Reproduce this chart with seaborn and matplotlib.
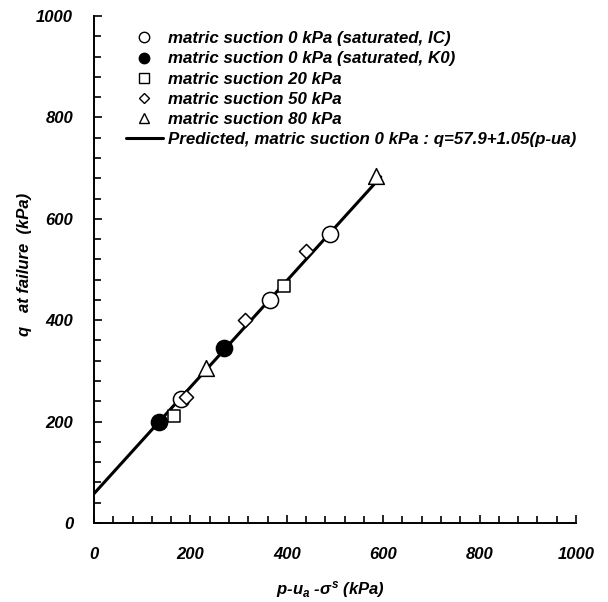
import matplotlib
matplotlib.use("Agg")
import matplotlib.pyplot as plt
import seaborn as sns
import numpy as np
import pandas as pd
from matplotlib.ticker import MultipleLocator
from matplotlib.lines import Line2D

sns.set_theme(style="ticks")
plt.rcParams['font.family'] = ['Liberation Sans', 'DejaVu Sans']
plt.rcParams['mathtext.fontset'] = 'custom'
plt.rcParams['mathtext.it'] = 'Liberation Sans:italic:bold'
plt.rcParams['mathtext.rm'] = 'Liberation Sans:bold'
plt.rcParams['text.color'] = 'black'
plt.rcParams['axes.labelcolor'] = 'black'
plt.rcParams['xtick.color'] = 'black'
plt.rcParams['ytick.color'] = 'black'

# Data
ic_x = [180, 365, 490]
ic_q = [245, 440, 570]
k0_x = [135, 270]
k0_q = [200, 345]
s20_x = [165, 395]
s20_q = [212, 467]
s50_x = [190, 314, 440]
s50_q = [248, 401, 537]
s80_x = [233, 585]
s80_q = [305, 685]

intercept = 57.9
slope = 1.05
line_x = [0, 595]

labels = [
    "matric suction 0 kPa (saturated, IC)",
    "matric suction 0 kPa (saturated, K0)",
    "matric suction 20 kPa",
    "matric suction 50 kPa",
    "matric suction 80 kPa",
    "Predicted, matric suction 0 kPa : q=57.9+1.05(p-ua)",
]

fig = plt.figure(figsize=(6.08, 6.02), dpi=100)
ax = fig.add_axes([94/608, 1-523/602, (576-94)/608, (523-16)/602])

lx = np.array(line_x, dtype=float)
line_df = pd.DataFrame({"x": lx, "q": intercept + slope * lx})
sns.lineplot(data=line_df, x="x", y="q", ax=ax, color="black", lw=2.2,
             legend=False, zorder=2)

common = dict(ax=ax, edgecolor="black", linewidth=1.1, zorder=3, legend=False)
sns.scatterplot(x=ic_x, y=ic_q, marker="o", s=135, color="white", **common)
sns.scatterplot(x=k0_x, y=k0_q, marker="o", s=135, color="black", **common)
sns.scatterplot(x=s20_x, y=s20_q, marker="s", s=85, color="white", **common)
sns.scatterplot(x=s50_x, y=s50_q, marker="D", s=52, color="white", **common)
sns.scatterplot(x=s80_x, y=s80_q, marker="^", s=128, color="white", **common)

handles = [
    Line2D([], [], marker="o", ls="", mfc="white", mec="black", ms=7.5, mew=1.0),
    Line2D([], [], marker="o", ls="", mfc="black", mec="black", ms=7.5, mew=1.0),
    Line2D([], [], marker="s", ls="", mfc="white", mec="black", ms=7.5, mew=1.0),
    Line2D([], [], marker="D", ls="", mfc="white", mec="black", ms=4.8, mew=1.0),
    Line2D([], [], marker="^", ls="", mfc="white", mec="black", ms=7.5, mew=1.0),
    Line2D([], [], color="black", lw=2.2),
]
leg = ax.legend(handles, labels, loc="upper left", bbox_to_anchor=(0.042, 0.993),
                frameon=False, prop=dict(family="Liberation Sans", weight="bold",
                                          style="italic", size=12.2),
                handlelength=2.15, handletextpad=0.3, labelspacing=0.3,
                borderpad=0.2)
for t in leg.get_texts():
    t.set_color("black")

ax.set_xlim(0, 1000)
ax.set_ylim(0, 1000)
ax.xaxis.set_major_locator(MultipleLocator(200))
ax.xaxis.set_minor_locator(MultipleLocator(40))
ax.yaxis.set_major_locator(MultipleLocator(200))
ax.yaxis.set_minor_locator(MultipleLocator(40))
ax.tick_params(which="both", direction="in", color="black", width=1.2)
ax.tick_params(which="major", length=6)
ax.tick_params(which="minor", length=5)
ax.tick_params(axis="x", which="major", pad=17)
ax.tick_params(axis="y", which="major", pad=15)
for lab in ax.get_xticklabels() + ax.get_yticklabels():
    lab.set_fontweight("bold")
    lab.set_fontstyle("italic")
    lab.set_fontsize(12)
    lab.set_color("black")

sns.despine(ax=ax)
for sp in ("left", "bottom"):
    ax.spines[sp].set_color("black")
    ax.spines[sp].set_linewidth(1.4)

ax.set_xlabel(r"p-u$_a$ -$\sigma^s$ (kPa)", fontsize=12, fontweight="bold",
              fontstyle="italic", color="black")
ax.set_ylabel("q   at failure  (kPa)", fontsize=12, fontweight="bold",
              fontstyle="italic", color="black")
ax.xaxis.set_label_coords((330-94)/482, (523-590)/507)
ax.yaxis.set_label_coords((25-94)/482, (523-264)/507)
ax.xaxis.label.set_verticalalignment("center")
ax.yaxis.label.set_verticalalignment("center")

fig.savefig("out.png", dpi=100)
